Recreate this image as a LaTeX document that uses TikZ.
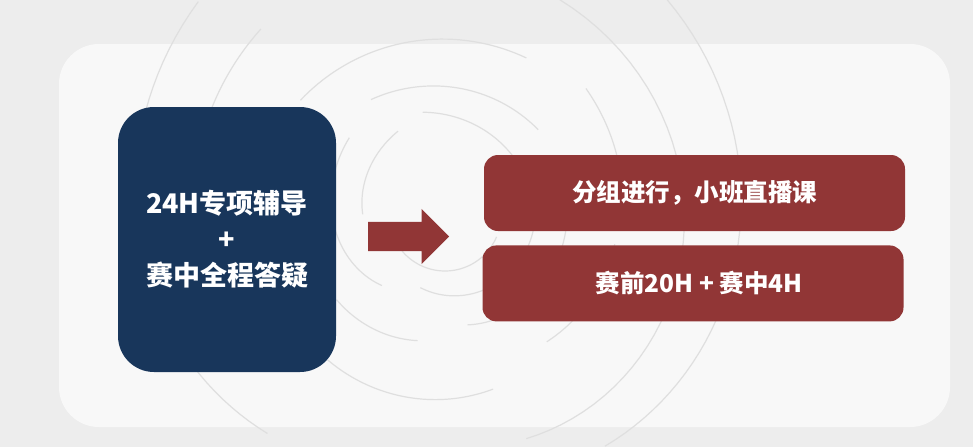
\documentclass[tikz,border=0pt]{standalone}
\usepackage{fontspec}
\newfontfamily\cjk{Noto Sans CJK SC}
\usepackage{tikz}
\usetikzlibrary{arrows,positioning,shapes,shapes.arrows}
\definecolor{paper}{HTML}{EDEDED}
\definecolor{panel}{HTML}{F8F8F8}
\definecolor{navy}{HTML}{18365B}
\definecolor{brick}{HTML}{913636}
\definecolor{swirlgray}{HTML}{DFDFDF}

\begin{document}
\begin{tikzpicture}[x=1pt,y=-1pt,node distance=14pt,
  swirl/.style={draw=swirlgray,line width=1.2pt},
  bluebox/.style={fill=navy,rounded corners=36pt,minimum width=218pt,minimum height=265pt,
      text=white,align=center,font=\cjk\bfseries\fontsize{27}{36}\selectfont},
  redbox/.style={fill=brick,rounded corners=14pt,minimum width=421pt,minimum height=76pt,
      text=white,font=\cjk\bfseries\fontsize{24.5}{28}\selectfont},
  flowarrow/.style={single arrow,fill=brick,minimum height=81pt,minimum width=55pt,
      single arrow head extend=13pt,inner xsep=0pt,inner ysep=14.5pt}]
\useasboundingbox (0,0) rectangle (973,447);
\fill[paper] (0,0) rectangle (973,447);
\fill[panel,rounded corners=40pt] (59,44) rectangle (950,427);
% swirls: centre x/y, start/end angle, start/end radius
\foreach \cx/\cy/\a/\b/\ra/\rb in {440/235/224/131/336/263, 440/235/229/197/273/254,
    440/235/224/296/194/197, 440/235/243/313/152/144, 440/235/262/323/124/104,
    440/235/248/195/112/80, 440/235/227/139/133/77, 445/215/140/23/56/56,
    445/220/110/6/72/89, 440/235/148/102/122/108, 440/235/132/71/168/163,
    440/235/73/-7/94/128, 440/235/45/3/151/175, 440/235/-46/52/327/268,
    440/245/-64/66/273/212, 440/245/-47/-10/214/185}
  \draw[swirl] plot[domain=\a:\b,samples=40]
    ({\cx+(\ra+(\rb-\ra)*(\x-\a)/(\b-\a))*cos(\x)},{\cy+(\ra+(\rb-\ra)*(\x-\a)/(\b-\a))*sin(\x)});
% boxes
\node[bluebox] (tutoring) at (227,239.5) {24H专项辅导\\+\\赛中全程答疑};
\node[flowarrow,anchor=tail] (arrow) at (368,236.5) {};
\node[redbox] (group) at (694.5,193) {分组进行，小班直播课};
\node[redbox,below=14pt of group.south,anchor=north,xshift=-1.5pt] (hours) {\hspace*{12pt}赛前20H + 赛中4H};
\end{tikzpicture}
\end{document}
